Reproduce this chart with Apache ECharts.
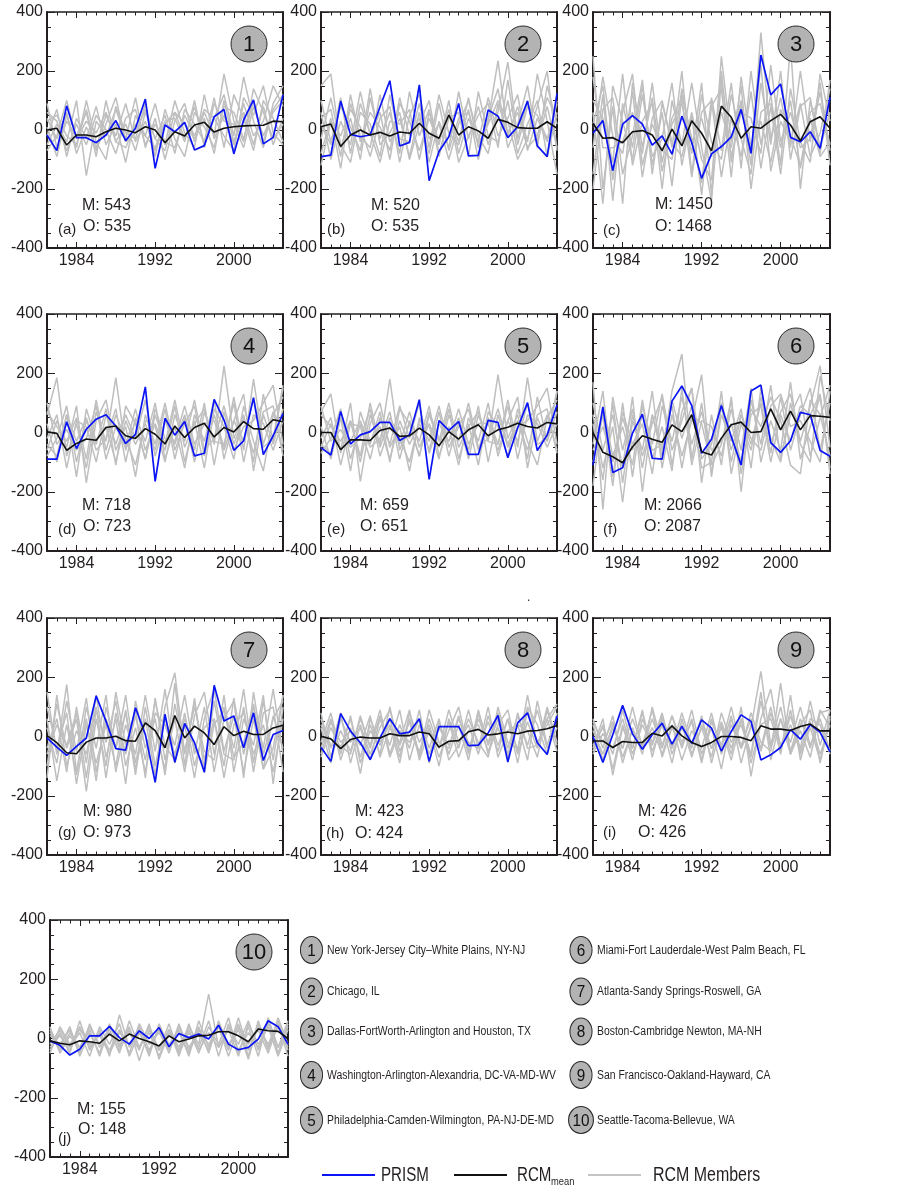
<!DOCTYPE html>
<html><head><meta charset="utf-8">
<script src="https://cdn.jsdelivr.net/npm/echarts@6/dist/echarts.min.js"></script>
<style>html,body{margin:0;padding:0;background:#fff}#c{width:920px;height:1186px}</style>
</head><body><div id="c"></div>
<script>
// ---------------- DATA ----------------
const years = [1981,1982,1983,1984,1985,1986,1987,1988,1989,1990,1991,1992,1993,1994,1995,1996,1997,1998,1999,2000,2001,2002,2003,2004,2005];
const yearTicks = [1984,1992,2000];
const panelNumbers = ['1','2','3','4','5','6','7','8','9','10'];
const panelLetters = ['(a)','(b)','(c)','(d)','(e)','(f)','(g)','(h)','(i)','(j)'];
const modelTotals = [543,520,1450,718,659,2066,980,423,426,155];
const obsTotals = [535,535,1468,723,651,2087,973,424,426,148];
const cityNames = [
  'New York-Jersey City\u2013White Plains, NY-NJ',
  'Chicago, IL',
  'Dallas-FortWorth-Arlington and Houston, TX',
  'Washington-Arlington-Alexandria, DC-VA-MD-WV',
  'Philadelphia-Camden-Wilmington, PA-NJ-DE-MD',
  'Miami-Fort Lauderdale-West Palm Beach, FL',
  'Atlanta-Sandy Springs-Roswell, GA',
  'Boston-Cambridge Newton, MA-NH',
  'San Francisco-Oakland-Hayward, CA',
  'Seattle-Tacoma-Bellevue, WA'
];

const prism1 = [-17,-70,82,-26,-26,-43,-17,32,-36,6,105,-130,17,-6,26,-68,-53,45,70,-81,34,102,-47,-25,119];
const mean1  = [0,6,-51,-17,-17,-23,-6,6,0,-9,11,0,-43,-6,-20,17,26,-7,6,11,14,15,16,30,28];
const prism2 = [-90,-85,98,-15,-23,-17,79,167,-54,-42,153,-172,-73,-23,90,-88,-86,68,47,-26,11,98,-54,-90,124];
const mean2  = [11,20,-56,-17,0,-17,-8,-20,-7,-11,23,-11,-28,51,-17,11,-3,-28,36,26,8,6,6,28,6];
const prism3 = [-11,32,-138,20,49,20,-51,-20,-82,47,-43,-164,-81,-56,-23,70,-79,254,119,156,-25,-40,-6,-62,111];
const mean3  = [23,-28,-26,-43,-6,-2,-17,-70,3,-54,31,-11,-71,81,43,-28,11,6,32,53,17,-37,28,45,6];
const prism4 = [-90,-90,36,-54,11,45,60,22,-37,-6,154,-165,48,-9,37,-79,-70,112,42,-60,-28,117,-75,-11,64];
const mean4  = [2,-3,-60,-37,-22,-26,17,22,-11,-20,13,-6,-39,22,-17,17,31,-15,17,2,37,13,11,43,36];
const prism5 = [-51,-76,71,-39,-8,3,34,34,-27,-8,111,-158,40,7,37,-74,-74,41,34,-85,15,101,-61,-8,93];
const mean5  = [0,0,-58,-25,-25,-27,7,15,-13,-11,15,-8,-45,3,-22,9,26,-11,9,18,31,20,15,34,29];
const prism6 = [-110,86,-135,-119,-2,62,-87,-90,106,157,91,-70,-23,91,-14,-110,140,160,-34,-67,-28,68,60,-61,-80];
const mean6  = [0,-67,-82,-102,-48,-11,-23,-33,26,3,60,-65,-76,-19,26,35,0,3,80,9,72,9,57,55,51];
const prism7 = [-5,-36,-64,-33,-5,137,52,-41,-46,97,7,-155,75,-87,44,-21,-121,173,52,69,-38,80,-81,7,20];
const mean7  = [3,-21,-55,-58,-19,-5,-5,1,-14,-16,46,20,-38,71,-5,35,12,-27,33,3,18,7,7,29,38];
const prism8 = [-36,-84,77,18,-21,-78,-5,60,9,15,60,-84,33,33,33,-31,-29,12,71,-86,46,80,-21,-61,69];
const mean8  = [1,-8,-41,-10,-2,-5,-5,9,3,3,15,9,-36,-16,-14,16,24,5,9,15,9,18,20,26,37];
const prism9 = [0,-88,6,105,9,-43,6,45,-26,34,-23,56,28,-49,17,73,51,-79,-62,-37,23,-9,40,14,-51];
const mean9  = [-15,-15,-37,-17,-20,-20,11,2,36,2,-20,-34,-20,0,0,-3,-14,36,25,25,20,34,42,19,19];
const prism10 = [-8,-23,-56,-36,9,9,41,3,-19,26,0,37,-28,17,3,15,-2,45,-19,-38,-30,-2,60,40,-19];
const mean10  = [-8,-16,-21,-8,-11,-16,15,-8,15,0,-11,-25,9,-11,-2,9,11,23,23,9,-11,32,26,24,0];

const members1 = [
 [40,-30,60,-80,10,-60,50,-20,90,-40,30,-70,20,60,-30,80,-50,40,120,-20,180,30,-60,90,150],
 [-50,20,-40,100,-155,30,-20,70,-30,110,-60,40,-100,30,90,-40,60,-20,190,30,-40,140,60,-30,20],
 [90,-60,30,-20,60,-90,100,-40,20,-70,60,-30,50,-80,70,20,-40,110,-60,120,40,-70,100,40,-40],
 [-20,70,-90,40,-30,80,-50,20,-110,50,-20,90,-50,100,-10,-60,120,-30,50,-50,90,-20,30,150,80],
 [10,-90,50,-60,100,-40,-100,80,-10,-30,90,-90,70,-30,-90,60,10,-60,80,60,-30,100,-40,70,120],
 [60,30,-70,20,-50,50,0,-80,40,70,-50,20,-40,-60,50,-20,70,40,-20,-70,110,50,150,-10,-50],
 [-70,-20,100,-30,30,-10,60,-40,-60,20,-20,-60,30,40,-40,100,-60,90,30,20,-60,80,-20,60,100],
 [30,50,-20,-50,70,-70,20,110,-40,-10,70,-30,-70,60,20,-30,40,-80,100,-40,60,-50,80,-50,40]
];
const members2 = [
 [150,190,-60,40,-100,110,-30,60,-80,130,-20,70,-90,50,-40,110,-60,30,235,-20,80,-40,190,30,-150],
 [-80,40,-130,90,-20,-60,120,-40,40,-90,60,-110,30,-60,130,-30,80,-50,60,230,-30,100,-60,150,20],
 [60,-100,30,-50,130,-20,60,-100,90,30,-70,40,-50,100,-80,40,-40,110,-20,40,120,-70,40,-40,100],
 [-30,110,-50,-110,60,20,-90,120,-30,-40,90,-60,120,-10,-50,70,-100,40,140,-60,20,150,-40,80,-60],
 [100,-40,80,10,-70,140,-50,-10,60,-100,20,100,-80,40,60,-90,130,-20,-40,100,-80,20,100,-90,60],
 [-120,30,-20,70,10,-90,40,80,-110,50,120,-30,20,-100,20,100,-20,-80,90,-10,60,-60,-20,110,40],
 [20,-50,110,-80,90,-10,-110,30,20,70,-100,60,-40,70,-110,-20,50,90,-60,170,-50,80,50,-30,90],
 [40,70,-90,120,-40,60,10,-70,110,-20,40,-80,90,-70,40,60,-50,20,100,30,-100,-30,80,200,-70]
];
const members3 = [
 [250,-200,80,-250,160,-60,110,-140,20,90,-80,160,-220,250,-40,100,-120,330,-30,110,-60,200,-40,130,-70],
 [-150,120,-240,90,-60,150,-120,60,-190,120,-30,-180,110,-70,160,-130,200,-50,120,-120,285,-200,100,-60,60],
 [100,40,-110,190,-120,30,90,-200,100,-50,160,-60,-240,170,-90,60,40,-80,220,-40,60,-60,-30,160,-120],
 [-60,180,-20,-80,130,-160,40,100,-60,200,-150,120,-40,-100,120,-30,-150,160,-50,200,-100,80,110,-80,170],
 [60,-250,150,30,-100,120,-90,-30,160,-120,50,-220,80,140,-160,180,-60,30,-110,70,-20,-120,60,90,-50],
 [180,-60,-60,-40,60,-80,160,-110,40,110,-160,60,100,-160,40,-90,130,-130,80,-150,140,-40,-110,190,30],
 [-200,70,110,-150,-20,170,-150,90,-40,-90,60,-100,-170,200,-110,90,-80,220,-140,30,-40,90,-90,-10,140],
 [20,150,-170,60,190,-120,20,-70,-100,140,-40,40,-90,60,-60,150,-200,60,90,-60,100,-130,40,-90,-40]
];
const members4 = [
 [60,185,-80,30,-120,70,-30,185,-60,40,-90,60,-40,110,-50,30,80,-40,225,-20,60,-100,130,-30,150],
 [-60,40,-50,90,-170,40,110,-60,20,-150,60,-40,100,-60,30,90,-80,60,-50,120,-60,180,-40,70,-60],
 [30,-100,60,-30,50,-60,-20,80,-100,50,-30,100,-90,20,-120,60,-30,110,-90,40,130,-130,60,-40,80],
 [-20,60,-120,40,20,-100,60,-40,60,-20,110,-80,40,-40,60,-60,100,-110,70,-60,20,40,100,160,-40],
 [100,-40,10,-60,-20,90,-90,20,-50,80,-60,30,-60,90,-100,40,-120,80,20,-90,90,-30,-130,60,120],
 [-40,-80,60,-150,80,-30,20,-100,40,-40,30,-60,80,-90,50,-100,70,-30,-40,100,-100,60,30,-60,40],
 [70,20,-30,50,-90,110,-60,60,-20,-110,40,20,-100,60,-30,110,-60,-20,90,-40,50,-70,70,90,-80],
 [-80,-20,90,-100,40,-40,80,-110,90,30,-90,80,-20,-30,90,-40,30,40,-60,40,-30,120,-50,-20,160]
];
const members5 = [
 [70,130,-70,40,-100,60,-40,180,-60,30,-80,60,-30,100,-50,20,70,-30,195,-20,60,-90,120,-30,140],
 [-50,30,-60,100,-165,30,100,-50,20,-130,50,-30,90,-50,20,80,-60,50,-40,110,-50,185,-30,60,-60],
 [20,-90,50,-30,40,-50,-20,70,-90,40,-30,90,-80,20,-110,50,-30,100,-80,40,120,-120,50,-30,70],
 [-20,50,-110,30,20,-90,50,-40,90,-20,100,-70,30,-30,50,-60,90,-100,60,-50,20,40,90,150,-40],
 [90,-30,10,-50,-20,80,-80,20,-40,70,-50,30,-50,80,-90,30,-110,70,20,-80,80,-30,-110,50,110],
 [-40,-70,50,-130,70,-30,20,-90,40,-40,30,-60,70,-80,40,-90,60,-30,-40,90,-90,60,30,-50,30],
 [60,20,-30,40,-80,100,-50,50,-20,-100,40,20,-90,60,-30,100,-50,-20,80,-40,40,-60,60,80,-70],
 [-70,-20,80,-90,30,-40,70,-100,80,30,-80,70,-20,-30,80,-40,30,30,-60,40,-30,100,-40,-20,140]
];
const members6 = [
 [170,-260,120,-60,80,-120,60,-80,140,265,-90,100,-140,60,-30,80,-120,150,-40,70,130,-30,90,225,-50],
 [-100,60,-180,100,-150,90,-40,130,-60,40,150,-170,60,-110,120,-200,110,-40,160,-90,60,130,-80,50,160],
 [60,-120,20,-235,40,-60,140,-120,60,-80,40,195,-150,90,-60,60,-40,100,-70,120,-60,60,150,-60,100],
 [-180,90,-80,20,-110,110,-90,20,-130,150,-110,40,20,-80,80,-60,150,-100,40,-60,170,-90,20,120,-120],
 [100,-60,60,-120,120,-200,60,-60,110,-20,90,-120,-100,140,-140,30,-60,120,-20,-100,100,-40,-100,190,40],
 [-40,140,-150,70,-40,30,-140,90,-30,120,-40,70,-60,-30,30,-100,80,20,120,40,-110,-140,110,60,-80],
 [30,-160,100,-170,60,-80,30,120,-110,70,150,-90,-40,100,-100,60,-20,-60,90,130,20,40,-30,-100,140],
 [-60,20,-100,50,-60,60,-60,-40,90,-120,60,30,-110,-40,110,-140,60,90,-100,60,-30,90,60,130,-140]
];
const members7 = [
 [150,-60,175,-120,60,-150,100,-40,140,-90,60,-130,100,215,-60,120,-80,60,-100,130,-60,100,-40,160,-60],
 [-100,110,-40,60,-185,60,-100,150,-30,90,-140,130,-80,60,-120,70,150,-60,100,-40,160,-90,120,-80,140],
 [60,-150,40,-130,100,-40,140,-120,40,-60,140,-50,160,-90,40,-140,60,160,-50,70,-120,60,-110,70,-40],
 [-40,60,-120,100,-90,140,-70,60,-160,120,-40,60,-130,110,-50,100,-50,-80,140,-120,60,-30,140,-160,100],
 [100,-40,80,-160,40,-90,40,-100,90,-130,100,-100,60,-30,140,-60,100,-120,60,120,-140,150,-60,60,120],
 [-140,140,-100,20,-60,100,-140,80,-60,70,-80,120,-30,-80,80,-100,30,60,-140,40,80,-60,40,-120,60],
 [30,-90,120,-50,130,-120,60,-40,80,-110,50,20,-110,180,-100,130,-120,40,90,-70,-20,110,-110,-40,140],
 [-60,40,-30,80,-140,90,-20,120,-100,30,-120,80,40,-60,60,-40,-100,120,-60,-80,100,-120,80,100,-120]
];
const members8 = [
 [60,-40,80,-90,40,-60,30,90,-30,50,-70,60,-40,90,-20,40,-60,70,-30,60,-50,140,-30,60,110],
 [-40,60,-80,30,-125,60,-20,40,-90,80,-20,40,-70,20,100,-50,60,-20,80,-40,70,-30,90,-40,30],
 [80,-70,20,-50,60,-30,90,-60,40,-40,90,-90,50,-60,40,-80,80,-60,40,90,-60,50,-40,100,-20],
 [-70,30,-40,60,-70,40,-60,100,-50,20,-50,30,-100,60,-40,90,-40,100,-70,20,40,-80,120,-30,70],
 [30,-90,60,-20,30,-80,60,-30,90,-80,40,-60,30,-30,60,-20,-40,50,-50,60,-90,90,-20,40,100],
 [-20,80,-60,70,-90,20,-30,60,-70,60,-60,90,-20,-40,70,-60,90,-30,60,-60,40,20,-70,90,-30],
 [40,-30,-30,-60,70,-40,70,-70,20,-20,60,-40,60,-80,-30,60,-20,-70,100,-20,-40,100,40,-60,80],
 [-60,50,-20,20,-30,70,-70,30,-20,90,-80,20,-40,50,-70,20,40,-50,30,-70,80,-40,-30,60,-50]
];
const members9 = [
 [60,-40,70,-90,30,-60,100,-30,70,-40,60,-80,50,-30,100,-40,30,220,-30,100,-50,60,-40,90,30],
 [-50,40,-110,40,-80,60,-20,80,-60,30,-40,70,-90,40,-60,100,-135,60,160,-40,70,-40,120,-30,90],
 [40,-80,30,-40,60,-30,90,-70,30,-30,90,-60,30,-110,60,-30,60,-40,100,-60,140,-80,50,-60,40],
 [-30,30,-60,90,-40,80,-50,40,-90,60,-60,30,-70,80,-20,40,-60,150,-80,60,-20,100,-30,60,-50],
 [20,-60,40,-40,100,-40,30,-60,40,-80,20,-40,80,-60,40,-40,80,-20,-50,180,-60,20,-70,80,90],
 [-40,60,-130,30,-40,90,-70,60,-40,80,-30,60,-40,30,-80,60,-70,120,-40,60,-60,40,90,-90,60],
 [50,-20,50,-70,20,-40,60,-40,70,-20,50,-90,60,-40,70,-90,40,-50,80,-30,40,-50,60,40,-60],
 [-60,10,-40,60,-60,40,-30,70,-40,40,-70,40,-40,50,-40,60,-90,40,60,-50,90,-60,30,-80,70]
];
const members10 = [
 [30,-40,20,-30,40,-20,30,-50,60,-30,20,-60,30,-30,40,-20,150,-30,40,-20,60,-40,50,-30,40],
 [-40,20,-50,60,-40,30,-60,80,-30,40,-40,30,-50,50,-40,40,-50,60,-30,50,-60,60,-40,70,-20],
 [20,-30,40,-60,20,-50,50,-30,40,-75,30,-40,50,-50,20,-30,60,-60,50,-40,20,-30,60,-50,50],
 [-20,30,-30,20,-60,40,-20,50,-60,20,-50,40,-20,30,-60,60,-30,40,-40,70,-40,40,-20,60,-40],
 [40,-50,10,-40,30,-60,40,-20,20,-40,50,-70,20,-40,30,-50,40,-20,70,-50,40,-60,70,-30,60],
 [-30,10,-40,40,-30,20,-40,30,-50,50,-20,20,-40,40,-30,20,-40,50,-20,30,-70,50,-30,40,-30],
 [10,-20,30,-50,50,-30,20,-40,30,-30,40,-40,30,-60,50,-40,20,-30,30,-60,50,-20,40,-60,30],
 [-50,40,-20,30,-20,10,-50,20,-20,30,-60,50,-30,20,-50,30,-20,40,-60,40,-20,30,-50,50,-60]
];

const allPrism = [prism1,prism2,prism3,prism4,prism5,prism6,prism7,prism8,prism9,prism10];
const allMean = [mean1,mean2,mean3,mean4,mean5,mean6,mean7,mean8,mean9,mean10];
const allMembers = [members1,members2,members3,members4,members5,members6,members7,members8,members9,members10];

// ---------------- LAYOUT ----------------
const FF = "'Liberation Sans', Arial, sans-serif";
const INK = '#231f20';
const boxes = [
  [47,12,236,236],[321,12,236,236],[593,12,237,236],
  [47,314,236,237],[321,314,236,237],[593,314,237,237],
  [47,618,236,237],[321,618,236,237],[593,618,237,237],
  [50,920,238,237]
];
const annotPos = [
  {m:[82,206],o:[83,227],l:[58,230]},
  {m:[371,206],o:[371,227],l:[327,230]},
  {m:[655,205],o:[655,227],l:[603,231]},
  {m:[82,506],o:[83,527],l:[58,530]},
  {m:[360,506],o:[360,527],l:[327,530]},
  {m:[644,506],o:[644,527],l:[603,530]},
  {m:[83,812],o:[83,833],l:[58,833]},
  {m:[355,812],o:[355,834],l:[326,834]},
  {m:[638,812],o:[638,833],l:[603,833]},
  {m:[77,1110],o:[78,1130],l:[58,1139]}
];
const legendRows = [950,991.5,1031.5,1075,1120];

const grids = [], xAxes = [], yAxes = [], series = [], graphics = [];

boxes.forEach((b, i) => {
  grids.push({left:b[0], top:b[1], width:b[2], height:b[3], show:false});
  const xBase = {gridIndex:i, type:'value', min:1981, max:2005, splitLine:{show:false}};
  // bottom main axis: labels + major ticks
  xAxes.push(Object.assign({}, xBase, {
    position:'bottom',
    axisLine:{show:true, onZero:false, lineStyle:{color:INK, width:2}},
    axisTick:{show:true, inside:true, length:6, customValues:yearTicks, lineStyle:{color:INK, width:1}},
    axisLabel:{show:true, customValues:yearTicks, margin:5, fontSize:16, fontFamily:FF, color:INK, formatter:v=>String(v)}
  }));
  // bottom minor ticks each year
  xAxes.push(Object.assign({}, xBase, {
    position:'bottom', interval:1,
    axisLine:{show:false, onZero:false},
    axisTick:{show:true, inside:true, length:3.5, lineStyle:{color:INK, width:1}},
    axisLabel:{show:false}
  }));
  // top border with minor ticks
  xAxes.push(Object.assign({}, xBase, {
    position:'top', interval:1,
    axisLine:{show:true, onZero:false, lineStyle:{color:INK, width:1.5}},
    axisTick:{show:true, inside:true, length:3.5, lineStyle:{color:INK, width:1}},
    axisLabel:{show:false}
  }));
  // top major ticks
  xAxes.push(Object.assign({}, xBase, {
    position:'top',
    axisLine:{show:false, onZero:false},
    axisTick:{show:true, inside:true, length:6, customValues:yearTicks, lineStyle:{color:INK, width:1}},
    axisLabel:{show:false, customValues:yearTicks}
  }));
  const yBase = {gridIndex:i, type:'value', min:-400, max:400, interval:200, splitLine:{show:false},
    minorTick:{show:true, splitNumber:4, length:4, lineStyle:{color:INK, width:1}}, minorSplitLine:{show:false}};
  yAxes.push(Object.assign({}, yBase, {
    position:'left',
    axisLine:{show:true, onZero:false, lineStyle:{color:INK, width:2}},
    axisTick:{show:true, inside:true, length:8, lineStyle:{color:INK, width:1}},
    axisLabel:{show:true, margin:4, fontSize:16, fontFamily:FF, color:INK}
  }));
  yAxes.push(Object.assign({}, yBase, {
    position:'right',
    axisLine:{show:true, onZero:false, lineStyle:{color:INK, width:2}},
    axisTick:{show:true, inside:true, length:8, lineStyle:{color:INK, width:1}},
    axisLabel:{show:false}
  }));

  const xi = 4*i, yi = 2*i;
  allMembers[i].forEach((m, k) => {
    series.push({type:'line', name:'RCM Members', xAxisIndex:xi, yAxisIndex:yi, symbol:'none', silent:true,
      data: years.map((y, j) => [y, m[j]]), lineStyle:{color:'#bfbfbf', width:1.5}, z:2});
  });
  series.push({type:'line', name:'PRISM', xAxisIndex:xi, yAxisIndex:yi, symbol:'none', silent:true,
    data: years.map((y, j) => [y, allPrism[i][j]]), lineStyle:{color:'#0a14f5', width:1.7}, z:3});
  series.push({type:'line', name:'RCM mean', xAxisIndex:xi, yAxisIndex:yi, symbol:'none', silent:true,
    data: years.map((y, j) => [y, allMean[i][j]]), lineStyle:{color:'#111111', width:1.6}, z:4});

  // circled panel number
  const cx = b[0] + b[2] - 34, cy = b[1] + 32;
  graphics.push({type:'circle', shape:{cx:cx, cy:cy, r:18}, style:{fill:'#b3b3b3', stroke:'#2a2a2a', lineWidth:1}, z:10});
  graphics.push({type:'text', x:cx, y:cy+1, style:{text:panelNumbers[i], fontSize:22, fontFamily:FF, fill:'#111', align:'center', verticalAlign:'middle'}, z:11});
  // annotations
  const a = annotPos[i];
  graphics.push({type:'text', x:a.m[0], y:a.m[1], style:{text:'M: ' + modelTotals[i], fontSize:16, fontFamily:FF, fill:INK, verticalAlign:'middle'}, z:10});
  graphics.push({type:'text', x:a.o[0], y:a.o[1], style:{text:'O: ' + obsTotals[i], fontSize:16, fontFamily:FF, fill:INK, verticalAlign:'middle'}, z:10});
  graphics.push({type:'text', x:a.l[0], y:a.l[1], style:{text:panelLetters[i], fontSize:15, fontFamily:FF, fill:INK, verticalAlign:'middle'}, z:10});
});

// city legend
cityNames.forEach((name, i) => {
  const col = i < 5 ? 0 : 1, row = i % 5;
  const ccx = col === 0 ? 311.5 : 581, tx = col === 0 ? 327 : 597;
  const cy = legendRows[row];
  graphics.push({type:'circle', x:ccx, y:cy, scaleX: i === 9 ? 0.92 : 0.82, shape:{cx:0, cy:0, r:13.5}, style:{fill:'#b3b3b3', stroke:'#2a2a2a', lineWidth:1.2}, z:10});
  graphics.push({type:'text', x:ccx, y:cy+1, scaleX:0.9, style:{text:panelNumbers[i], fontSize:17, fontFamily:FF, fill:'#111', align:'center', verticalAlign:'middle'}, z:11});
  graphics.push({type:'text', x:tx, y:cy, scaleX:0.76, style:{text:name, fontSize:13.7, fontFamily:FF, fill:INK, verticalAlign:'middle'}, z:10});
});

// line legend
const LY = 1175;
graphics.push({type:'line', shape:{x1:322, y1:LY, x2:375, y2:LY}, style:{stroke:'#0a14f5', lineWidth:2}});
graphics.push({type:'text', x:381, y:LY, scaleX:0.72, style:{text:'PRISM', fontSize:21, fontFamily:FF, fill:INK, verticalAlign:'middle'}});
graphics.push({type:'line', shape:{x1:454, y1:LY, x2:507, y2:LY}, style:{stroke:'#111', lineWidth:2}});
graphics.push({type:'text', x:517, y:LY, scaleX:0.72, style:{text:'RCM', fontSize:21, fontFamily:FF, fill:INK, verticalAlign:'middle'}});
graphics.push({type:'text', x:551, y:LY+7, scaleX:0.85, style:{text:'mean', fontSize:11, fontFamily:FF, fill:INK, verticalAlign:'middle'}});
graphics.push({type:'line', shape:{x1:588, y1:LY, x2:641, y2:LY}, style:{stroke:'#c4c4c4', lineWidth:2}});
graphics.push({type:'text', x:653, y:LY, scaleX:0.76, style:{text:'RCM Members', fontSize:21, fontFamily:FF, fill:INK, verticalAlign:'middle'}});
graphics.push({type:'text', x:527, y:592, style:{text:'.', fontSize:12, fontFamily:FF, fill:INK}});

const chart = echarts.init(document.getElementById('c'), null, {renderer:'canvas'});
chart.setOption({
  animation:false,
  backgroundColor:'#ffffff',
  grid:grids, xAxis:xAxes, yAxis:yAxes, series:series,
  graphic:{elements:graphics}
});
</script></body></html>
